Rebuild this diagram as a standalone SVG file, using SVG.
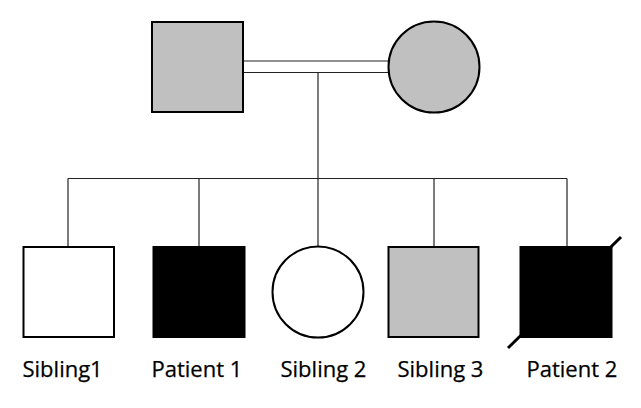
<svg xmlns="http://www.w3.org/2000/svg" width="641" height="408" viewBox="0 0 641 408">
<style>
.node{stroke:#000;stroke-width:2}
.aff{fill:#000}
.car{fill:#c0c0c0}
.un{fill:#fff}
.conn{stroke:#222;stroke-width:1.2;fill:none}
.lbl{font-family:"Open Sans","Noto Sans",sans-serif;font-size:22px;font-weight:500;fill:#000;stroke:#000;stroke-width:0.25}
</style>
<rect width="641" height="408" fill="#fff"/>
<g id="connectors">
<line class="conn" x1="243" y1="61" x2="389" y2="61"/>
<line class="conn" x1="243" y1="72.5" x2="389" y2="72.5"/>
<line class="conn" x1="318" y1="72.5" x2="318" y2="246"/>
<line class="conn" x1="68" y1="178.5" x2="567" y2="178.5"/>
<line class="conn" x1="68" y1="178.5" x2="68" y2="247"/>
<line class="conn" x1="199" y1="178.5" x2="199" y2="247"/>
<line class="conn" x1="434" y1="178.5" x2="434" y2="247"/>
<line class="conn" x1="567" y1="178.5" x2="567" y2="247"/>
</g>
<g id="father"><rect class="node car" x="152" y="22" width="91" height="90"/></g>
<g id="mother"><circle class="node car" cx="434" cy="67" r="45.5"/></g>
<g id="sibling1"><rect class="node un" x="23.5" y="247" width="90.5" height="90"/><text class="lbl" x="22.5" y="377">Sibling1</text></g>
<g id="patient1"><rect class="node aff" x="153.5" y="247" width="91" height="90"/><text class="lbl" x="151.5" y="377">Patient 1</text></g>
<g id="sibling2"><circle class="node un" cx="318" cy="292" r="45.5"/><text class="lbl" x="280.5" y="377">Sibling 2</text></g>
<g id="sibling3"><rect class="node car" x="388.5" y="247" width="90" height="90"/><text class="lbl" x="397.5" y="377">Sibling 3</text></g>
<g id="patient2"><rect class="node aff" x="520.5" y="247" width="91" height="90"/><line x1="508" y1="348" x2="621" y2="237" stroke="#000" stroke-width="3"/><text class="lbl" x="526.5" y="377">Patient 2</text></g>
</svg>
